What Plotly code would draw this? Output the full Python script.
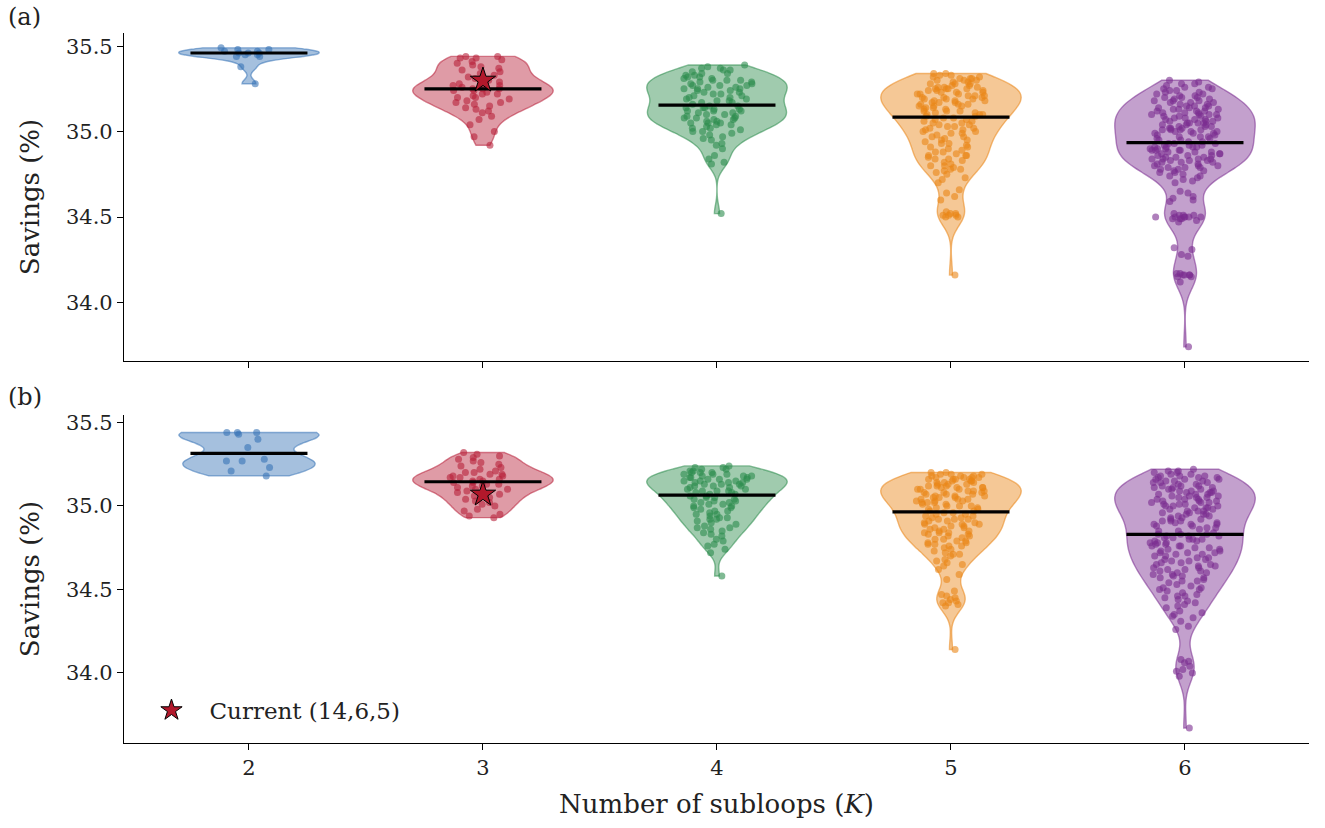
import numpy as np
import plotly.graph_objects as go

k_values = [2, 3, 4, 5, 6]
colors = ["#3773B6", "#B8213A", "#2C8C4C", "#E98516", "#7A2C90"]
x_ticks = [2, 3, 4, 5, 6]
y_ticks = [34.0, 34.5, 35.0, 35.5]

# ---------------- panel (a) ----------------
a_k2 = [35.49, 35.48, 35.48, 35.47, 35.47, 35.46, 35.46, 35.46, 35.45, 35.45,
        35.44, 35.44, 35.38, 35.28]

a_k3 = [35.44, 35.44, 35.43, 35.43, 35.42, 35.41, 35.40, 35.39, 35.38, 35.37,
        35.36, 35.35, 35.34, 35.33, 35.32, 35.31, 35.30, 35.29, 35.28, 35.27,
        35.27, 35.26, 35.26, 35.25, 35.25, 35.25, 35.24, 35.24, 35.23, 35.22,
        35.22, 35.21, 35.20, 35.20, 35.19, 35.18, 35.17, 35.17, 35.16, 35.15,
        35.14, 35.13, 35.12, 35.11, 35.09, 35.07, 35.04, 35.00, 34.97, 34.92]

a_k4 = [35.39, 35.38, 35.37, 35.37, 35.36, 35.36, 35.35,
        35.34, 35.34, 35.33, 35.33, 35.32, 35.32, 35.31, 35.31, 35.30, 35.30, 35.30,
        35.29, 35.29, 35.28, 35.28, 35.27, 35.27, 35.27, 35.26, 35.26, 35.25, 35.25, 35.25,
        35.24, 35.24, 35.23, 35.23, 35.22, 35.22, 35.21, 35.21, 35.20, 35.20,
        35.19, 35.19, 35.18, 35.18, 35.17, 35.17, 35.16,
        35.15, 35.15, 35.14, 35.14, 35.14, 35.13, 35.13, 35.12, 35.12, 35.12, 35.11, 35.11, 35.10, 35.10,
        35.09, 35.09, 35.08, 35.08, 35.08, 35.07, 35.07, 35.06, 35.06, 35.05, 35.05, 35.05,
        35.04, 35.04, 35.03, 35.02, 35.02, 35.01, 35.00, 35.00,
        34.99, 34.98, 34.97, 34.96, 34.95,
        34.93, 34.92, 34.90,
        34.86, 34.84, 34.82, 34.81,
        34.52]

a_k5 = [35.34, 35.34, 35.33, 35.33, 35.32, 35.32, 35.31, 35.31, 35.31, 35.30, 35.30, 35.30,
        35.29, 35.29, 35.28, 35.28, 35.28, 35.27, 35.27, 35.26, 35.26, 35.26, 35.25, 35.25, 35.25, 35.25,
        35.24, 35.24, 35.24, 35.23, 35.23, 35.23, 35.22, 35.22, 35.22, 35.21, 35.21, 35.21, 35.20, 35.20, 35.20,
        35.19, 35.19, 35.19, 35.18, 35.18, 35.18, 35.17, 35.17, 35.17, 35.16, 35.16, 35.16, 35.15, 35.15, 35.15,
        35.14, 35.14, 35.13, 35.13, 35.12, 35.12, 35.12, 35.11, 35.11, 35.10, 35.10, 35.10, 35.09, 35.09,
        35.08, 35.08, 35.07, 35.07, 35.06, 35.06, 35.05, 35.05, 35.04, 35.04, 35.03, 35.03,
        35.02, 35.02, 35.01, 35.01, 35.00, 35.00, 34.99, 34.99, 34.98, 34.97, 34.97,
        34.96, 34.95, 34.95, 34.94, 34.93, 34.93, 34.92, 34.91, 34.91, 34.90,
        34.89, 34.88, 34.88, 34.87, 34.86, 34.86, 34.85, 34.84, 34.84, 34.83, 34.86,
        34.82, 34.81, 34.80, 34.80, 34.79, 34.78, 34.78, 34.77, 34.76,
        34.75, 34.73, 34.72, 34.70,
        34.66, 34.64, 34.62, 34.60,
        34.53, 34.52, 34.52, 34.51, 34.51, 34.51, 34.50, 34.50,
        34.16]

a_k6 = [35.30, 35.29, 35.28, 35.28, 35.27, 35.26, 35.26,
        35.25, 35.25, 35.24, 35.24, 35.23, 35.23, 35.22, 35.22, 35.21, 35.21,
        35.20, 35.20, 35.20, 35.19, 35.19, 35.18, 35.18, 35.18, 35.17, 35.17, 35.17, 35.16, 35.16,
        35.15, 35.15, 35.15, 35.14, 35.14, 35.14, 35.13, 35.13, 35.13, 35.12, 35.12, 35.12,
        35.11, 35.11, 35.11,
        35.10, 35.10, 35.10, 35.10, 35.09, 35.09, 35.09, 35.08, 35.08, 35.08, 35.07, 35.07, 35.07,
        35.06, 35.06, 35.06,
        35.05, 35.05, 35.05, 35.05, 35.04, 35.04, 35.04, 35.03, 35.03, 35.03, 35.02, 35.02, 35.02,
        35.01, 35.01, 35.01, 35.01,
        35.00, 35.00, 35.00, 34.99, 34.99, 34.99, 34.98, 34.98, 34.97, 34.97, 34.97, 34.96, 34.96,
        34.95, 34.95, 34.94, 34.94,
        34.93, 34.93, 34.93, 34.92, 34.92, 34.92, 34.91, 34.91, 34.91, 34.91, 34.90, 34.90, 34.90,
        34.89, 34.89, 34.89, 34.89,
        34.88, 34.88, 34.88, 34.87, 34.87, 34.87, 34.86, 34.86, 34.86, 34.85, 34.85, 34.85,
        34.84, 34.84, 34.84, 34.84,
        34.83, 34.83, 34.83, 34.82, 34.82, 34.82, 34.81, 34.81, 34.80, 34.80, 34.80, 34.79, 34.79, 34.79,
        34.78, 34.78, 34.77, 34.77, 34.76, 34.76, 34.75, 34.74, 34.74,
        34.73, 34.72, 34.71, 34.70,
        34.65, 34.64, 34.62, 34.61, 34.60, 34.59,
        34.52, 34.51, 34.51, 34.51, 34.50, 34.50, 34.50, 34.50, 34.50, 34.50, 34.49, 34.49, 34.49, 34.48, 34.47,
        34.32, 34.31, 34.28, 34.27,
        34.17, 34.17, 34.16, 34.16, 34.16, 34.16, 34.15, 34.15, 34.12,
        33.74]

# ---------------- panel (b) ----------------
b_k2 = [35.44, 35.44, 35.44, 35.43, 35.40, 35.35, 35.28, 35.27, 35.27, 35.23, 35.21, 35.18]

b_k3 = [35.32, 35.31, 35.30, 35.29, 35.28, 35.27, 35.26, 35.25, 35.24, 35.23, 35.22, 35.21,
        35.20, 35.20, 35.19, 35.19, 35.18, 35.18, 35.17, 35.17, 35.16, 35.16, 35.15, 35.15,
        35.14, 35.14, 35.13, 35.13, 35.12, 35.12, 35.11, 35.10, 35.10, 35.09, 35.08, 35.07,
        35.06, 35.05, 35.04, 35.03, 35.02, 35.01, 35.00, 34.98, 34.97, 34.95, 34.94, 34.93]

b_k4 = [35.24, 35.23, 35.23, 35.22, 35.22, 35.21, 35.21, 35.20, 35.20, 35.20,
        35.19, 35.19, 35.19, 35.18, 35.18, 35.18, 35.17, 35.17, 35.17, 35.16, 35.16, 35.16,
        35.15, 35.15, 35.15, 35.14, 35.14, 35.14, 35.13, 35.13, 35.13, 35.12, 35.12, 35.12,
        35.11, 35.11, 35.10, 35.10, 35.09, 35.09, 35.09, 35.08, 35.08, 35.07, 35.07,
        35.06, 35.06, 35.05, 35.05, 35.04, 35.04, 35.03, 35.03, 35.02, 35.02,
        35.01, 35.01, 35.00, 35.00, 34.99, 34.99, 34.98, 34.97, 34.97,
        34.96, 34.95, 34.95, 34.94, 34.93, 34.93, 34.92, 34.92,
        34.91, 34.90, 34.89, 34.88, 34.87, 34.87, 34.86,
        34.85, 34.84, 34.83, 34.82, 34.80,
        34.79, 34.77, 34.76, 34.74, 34.72,
        34.58]

b_k5 = [35.20, 35.20, 35.19, 35.19, 35.19, 35.18, 35.18, 35.18, 35.17, 35.17, 35.17, 35.17,
        35.16, 35.16, 35.16, 35.16,
        35.15, 35.15, 35.15, 35.14, 35.14, 35.14, 35.13, 35.13, 35.13, 35.12, 35.12, 35.12,
        35.11, 35.11, 35.11, 35.11,
        35.10, 35.10, 35.10, 35.09, 35.09, 35.09, 35.08, 35.08, 35.08, 35.07, 35.07, 35.07,
        35.06, 35.06, 35.06,
        35.05, 35.05, 35.05, 35.04, 35.04, 35.04, 35.03, 35.03, 35.03, 35.02, 35.02, 35.02,
        35.01, 35.01, 35.00, 35.00, 35.00, 34.99, 34.99, 34.98, 34.98, 34.97, 34.97,
        34.96, 34.96, 34.95, 34.95, 34.94, 34.94, 34.93, 34.93, 34.92, 34.92, 34.92,
        34.91, 34.91, 34.90, 34.90, 34.89, 34.89, 34.89, 34.88, 34.88, 34.87, 34.87,
        34.86, 34.86, 34.85, 34.85, 34.84, 34.84, 34.84, 34.83, 34.83, 34.82, 34.82,
        34.81, 34.80, 34.80, 34.79, 34.79, 34.78, 34.78, 34.77, 34.77,
        34.76, 34.75, 34.74, 34.73, 34.72, 34.71, 34.71, 34.76,
        34.70, 34.68, 34.67, 34.66, 34.65, 34.64,
        34.62, 34.59, 34.56,
        34.49, 34.47, 34.46, 34.45, 34.44, 34.43, 34.42, 34.42, 34.41, 34.40,
        34.14]

b_k6 = [35.22, 35.21, 35.21, 35.20, 35.20, 35.19, 35.19, 35.18, 35.18, 35.18,
        35.17, 35.17, 35.17, 35.16, 35.16, 35.16, 35.15, 35.15, 35.15, 35.14, 35.14, 35.14, 35.13, 35.13,
        35.12, 35.12, 35.12, 35.11, 35.11, 35.11, 35.10, 35.10, 35.10, 35.09, 35.09, 35.09, 35.08, 35.08, 35.08,
        35.07, 35.07, 35.07, 35.06, 35.06, 35.06, 35.05, 35.05, 35.05, 35.04, 35.04, 35.04, 35.03, 35.03, 35.03,
        35.02, 35.02, 35.02, 35.01, 35.01, 35.01, 35.00, 35.00, 35.00, 34.99, 34.99, 34.99, 34.98, 34.98,
        34.97, 34.97, 34.97, 34.96, 34.96, 34.95, 34.95, 34.95, 34.94, 34.94, 34.93, 34.93,
        34.92, 34.92, 34.91, 34.91, 34.91, 34.90, 34.90, 34.89, 34.89, 34.89,
        34.88, 34.88, 34.87, 34.87, 34.86, 34.85, 34.85, 34.84,
        34.83, 34.83, 34.83, 34.82, 34.82, 34.82, 34.81, 34.81, 34.80, 34.80, 34.80, 34.79, 34.79,
        34.78, 34.78, 34.78, 34.77, 34.77, 34.76, 34.76, 34.76, 34.75, 34.75, 34.74, 34.74,
        34.73, 34.73, 34.72, 34.72, 34.72, 34.71, 34.71, 34.70, 34.70, 34.69, 34.69,
        34.68, 34.68, 34.67, 34.67, 34.66, 34.66, 34.65, 34.65, 34.64, 34.64,
        34.63, 34.63, 34.62, 34.62, 34.61, 34.61, 34.60, 34.60, 34.59, 34.59,
        34.58, 34.58, 34.57, 34.57, 34.56, 34.55, 34.55, 34.54,
        34.53, 34.52, 34.51, 34.51, 34.50, 34.50,
        34.49, 34.48, 34.47, 34.46, 34.46, 34.45,
        34.44, 34.43, 34.42, 34.41, 34.40,
        34.39, 34.37, 34.36, 34.35, 34.34,
        34.33, 34.31, 34.28, 34.26,
        34.08, 34.07, 34.06, 34.04, 34.02, 34.01, 34.00, 33.98,
        33.67]

current_k = 3
current_a = 35.30
current_b = 35.07
current_label = "Current (14,6,5)"
panel_a = [a_k2, a_k3, a_k4, a_k5, a_k6]
panel_b = [b_k2, b_k3, b_k4, b_k5, b_k6]

FONT = "DejaVu Serif"
BW_SCALE = 0.8   # slightly narrower kernel than plain Scott's rule


def rgba(hexc, a):
    h = hexc.lstrip("#")
    r, g, b = int(h[0:2], 16), int(h[2:4], 16), int(h[4:6], 16)
    return f"rgba({r},{g},{b},{a})"


fig = go.Figure()


def add_panel(groups, xa, ya, star_y, show_leg):
    for k, vals, c in zip(k_values, groups, colors):
        v = np.asarray(vals, dtype=float)
        bw = float(BW_SCALE * v.std(ddof=1) * len(v) ** (-0.2))
        fig.add_trace(go.Violin(
            x=[k] * len(v), y=v, xaxis=xa, yaxis=ya,
            width=0.6, scalemode="width", spanmode="hard", bandwidth=bw,
            points="all", jitter=0.5, pointpos=0,
            fillcolor=rgba(c, 0.45), line=dict(color=rgba(c, 0.55), width=1.4),
            marker=dict(color=c, size=7, opacity=0.6, line=dict(width=0)),
            box_visible=False, meanline_visible=False,
            showlegend=False, hoverinfo="y"))
    for k, vals in zip(k_values, groups):
        med = float(np.median(vals))
        fig.add_trace(go.Scatter(
            x=[k - 0.25, k + 0.25], y=[med, med], xaxis=xa, yaxis=ya,
            mode="lines", line=dict(color="black", width=3.2),
            showlegend=False, hoverinfo="skip"))
    fig.add_trace(go.Scatter(
        x=[current_k], y=[star_y], xaxis=xa, yaxis=ya, mode="markers",
        marker=dict(symbol="star", size=19, color="#B2182B",
                    line=dict(color="black", width=1)),
        name=current_label, showlegend=show_leg))


add_panel(panel_a, "x2", "y2", current_a, False)
add_panel(panel_b, "x", "y", current_b, True)

tickfont = dict(family=FONT, size=21, color="#222")
axis_common = dict(showgrid=False, zeroline=False, showline=True,
                   linecolor="black", linewidth=1.2, ticks="outside",
                   ticklen=6, tickwidth=1.2, tickcolor="black", tickfont=tickfont)
title_font = dict(family=FONT, size=26, color="#222")

fig.update_layout(
    width=1325, height=828,
    margin=dict(l=124, r=16, t=33, b=85),
    paper_bgcolor="white", plot_bgcolor="white",
    violinmode="overlay", violingap=0,
    font=dict(family=FONT, size=21, color="#222"),
    xaxis=dict(domain=[0, 1], anchor="y", range=[1.466, 6.53], tickvals=x_ticks,
               title=dict(text="Number of subloops (<i>K</i>)", font=title_font),
               **axis_common),
    yaxis=dict(domain=[0, 0.462], anchor="x", range=[33.58, 35.545], tickvals=y_ticks,
               tickformat=".1f",
               title=dict(text="Savings (%)", font=title_font, standoff=18),
               **axis_common),
    xaxis2=dict(domain=[0, 1], anchor="y2", range=[1.466, 6.53], tickvals=x_ticks,
                showticklabels=False, matches="x", **axis_common),
    yaxis2=dict(domain=[0.538, 1], anchor="x2", range=[33.657, 35.577], tickvals=y_ticks,
                tickformat=".1f",
                title=dict(text="Savings (%)", font=title_font, standoff=18),
                **axis_common),
    legend=dict(x=0.008, y=0.0158, xanchor="left", yanchor="bottom",
                bgcolor="rgba(0,0,0,0)", font=dict(family=FONT, size=23, color="#222"),
                itemwidth=66),
    annotations=[
        dict(text="(a)", xref="paper", yref="paper", x=-0.1, y=1.045,
             xanchor="left", yanchor="top", showarrow=False,
             font=dict(family=FONT, size=24, color="#222")),
        dict(text="(b)", xref="paper", yref="paper", x=-0.1, y=0.51,
             xanchor="left", yanchor="top", showarrow=False,
             font=dict(family=FONT, size=24, color="#222")),
    ],
)

fig.write_html("out.html")
